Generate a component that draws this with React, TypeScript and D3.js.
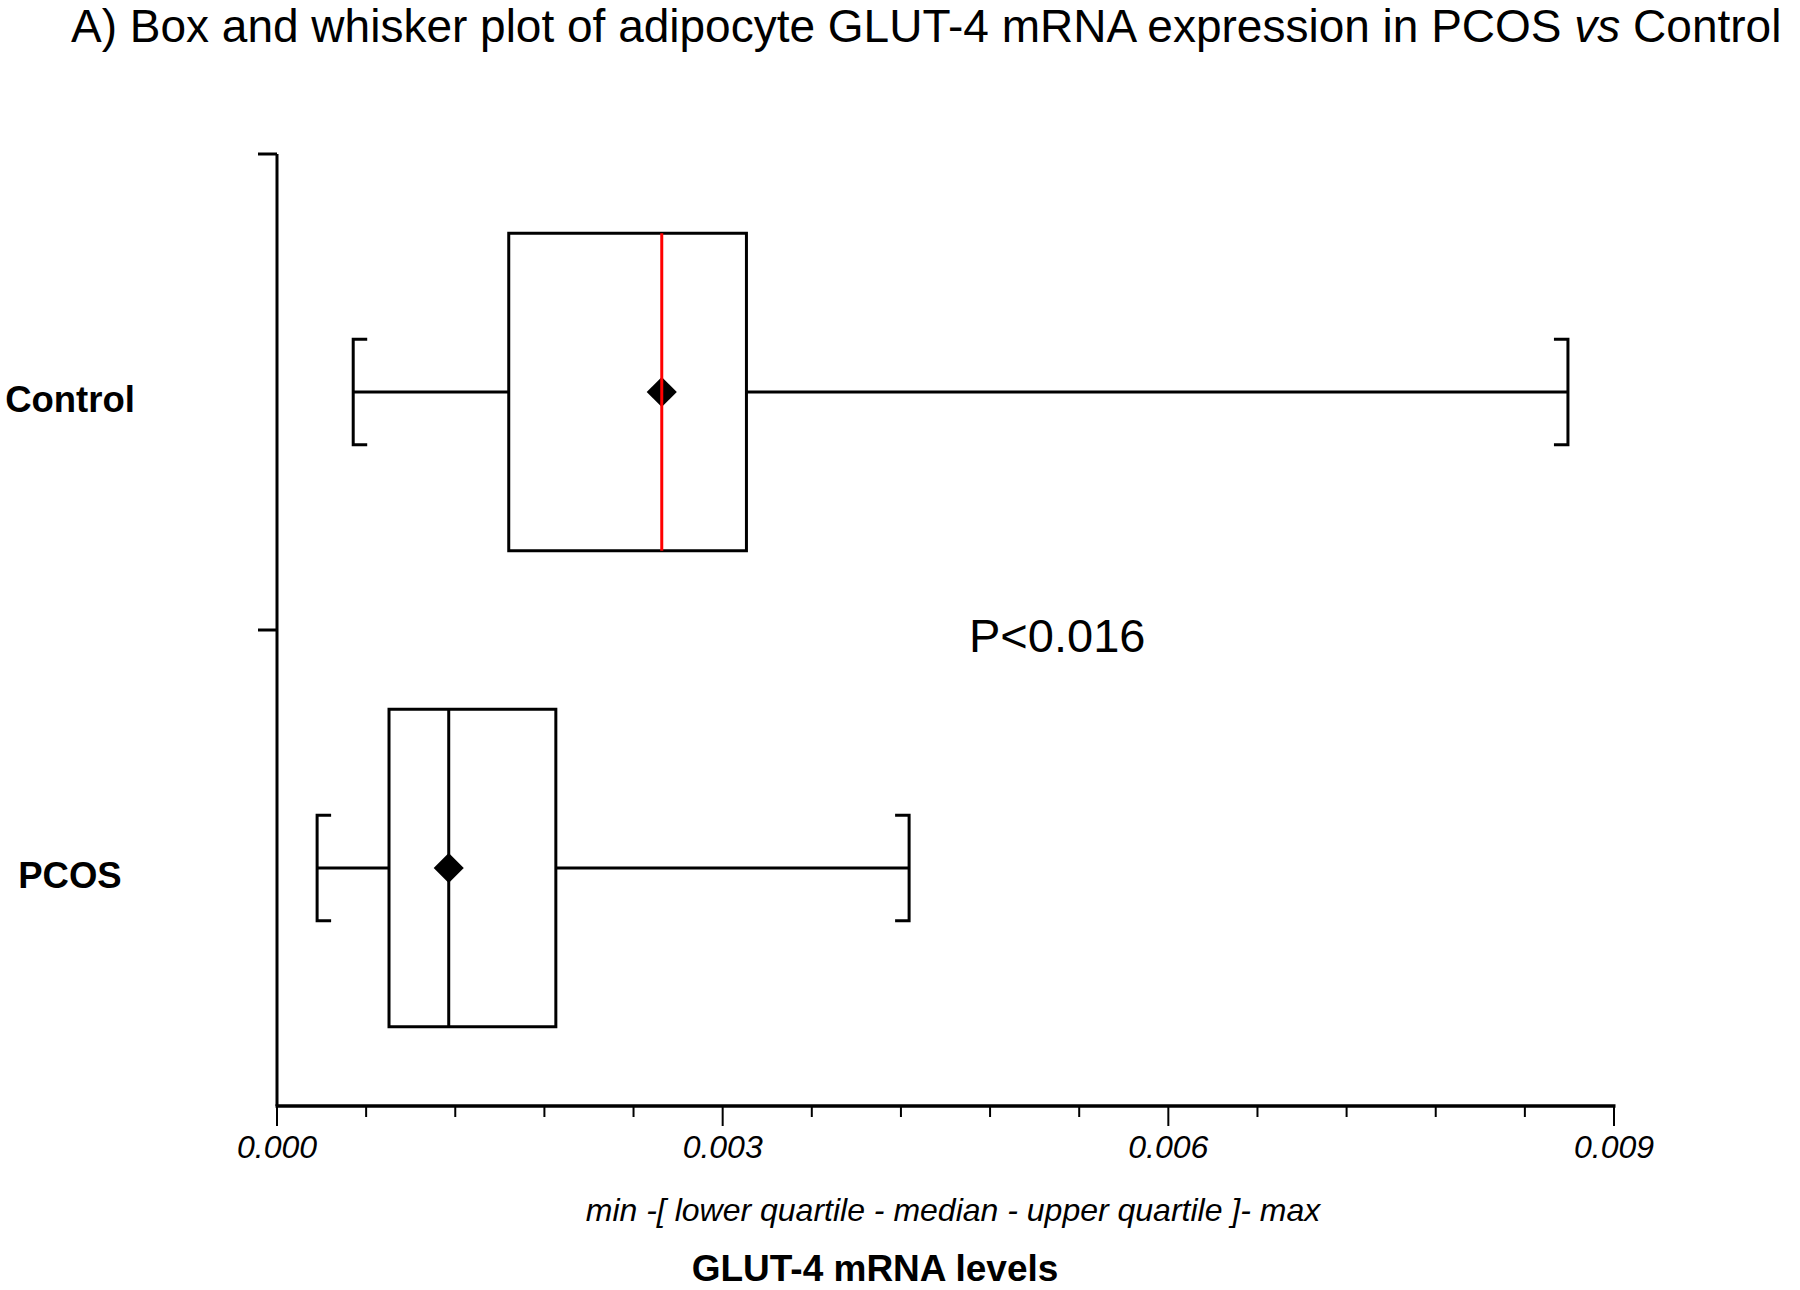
import React, { useEffect, useRef } from "react";
import * as d3 from "d3";

// values
const groups = ["Control", "PCOS"];
const mins = [0.000513, 0.00027];
const lowerQuartiles = [0.00156, 0.000754];
const medians = [0.00259, 0.001156];
const upperQuartiles = [0.00316, 0.001877];
const maxs = [0.00869, 0.004255];
const means = [0.00259, 0.001156];
const medianColors = ["#ff0000", "#000000"];
const xTicks = [0, 0.003, 0.006, 0.009];
const minorTicks = d3.range(0, 16).map((i) => i * 0.0006);

const FONT = "'Liberation Sans', Arial, sans-serif";

const App = () => {
  const chartEl = useRef<SVGSVGElement>(null);

  useEffect(() => {
    const width = 1800,
      height = 1290;
    const left = 277,
      right = 1614,
      top = 154,
      bottom = 1106;

    const svg = d3.select(chartEl.current);
    svg.selectAll("*").remove();
    svg.attr("width", width).attr("height", height);

    const x = d3.scaleLinear().domain([0, 0.009]).range([left, right]);
    const y = d3.scaleBand().domain(groups).range([top, bottom]).padding(0);

    // title
    const title = svg
      .append("text")
      .attr("x", 71)
      .attr("y", 42)
      .attr("font-family", FONT)
      .attr("font-size", 46)
      .attr("fill", "#000");
    title.append("tspan").text("A) Box and whisker plot of adipocyte GLUT-4 mRNA expression in PCOS ");
    title.append("tspan").attr("font-style", "italic").text("vs");
    title.append("tspan").text(" Control");

    // y axis with ticks on band edges
    svg
      .append("line")
      .attr("x1", left)
      .attr("x2", left)
      .attr("y1", top)
      .attr("y2", bottom)
      .attr("stroke", "#000")
      .attr("stroke-width", 3);
    groups.forEach((g) => {
      svg
        .append("line")
        .attr("x1", left - 19)
        .attr("x2", left)
        .attr("y1", y(g)!)
        .attr("y2", y(g)!)
        .attr("stroke", "#000")
        .attr("stroke-width", 3);
    });

    // x axis
    const xAxis = svg.append("g");
    xAxis
      .append("line")
      .attr("x1", left - 1.5)
      .attr("x2", right + 1.5)
      .attr("y1", bottom)
      .attr("y2", bottom)
      .attr("stroke", "#000")
      .attr("stroke-width", 3.5);
    xAxis
      .selectAll(".minor")
      .data(minorTicks)
      .enter()
      .append("line")
      .attr("x1", (d) => x(d))
      .attr("x2", (d) => x(d))
      .attr("y1", bottom)
      .attr("y2", (d, i) => (i % 5 === 0 ? bottom + 20 : bottom + 11))
      .attr("stroke", "#000")
      .attr("stroke-width", 2);
    xAxis
      .selectAll(".lbl")
      .data(xTicks)
      .enter()
      .append("text")
      .attr("x", (d) => x(d))
      .attr("y", 1158)
      .attr("text-anchor", "middle")
      .attr("font-family", FONT)
      .attr("font-style", "italic")
      .attr("font-size", 32)
      .text((d) => d3.format(".3f")(d));

    svg
      .append("text")
      .attr("x", 953)
      .attr("y", 1221)
      .attr("text-anchor", "middle")
      .attr("font-family", FONT)
      .attr("font-style", "italic")
      .attr("font-size", 32)
      .text("min -[ lower quartile - median - upper quartile ]- max");

    svg
      .append("text")
      .attr("x", 875)
      .attr("y", 1281)
      .attr("text-anchor", "middle")
      .attr("font-family", FONT)
      .attr("font-weight", "bold")
      .attr("font-size", 37)
      .text("GLUT-4 mRNA levels");

    // category labels
    svg
      .selectAll(".cat")
      .data(groups)
      .enter()
      .append("text")
      .attr("x", 70)
      .attr("y", (d) => y(d)! + y.bandwidth() / 2 + 20)
      .attr("text-anchor", "middle")
      .attr("font-family", FONT)
      .attr("font-weight", "bold")
      .attr("font-size", 36.5)
      .text((d) => d);

    // boxes
    const bw = y.bandwidth();
    const boxH = bw * 0.667;
    const capH = bw * 0.222;
    const diamond = d3.symbol().type(d3.symbolDiamond2).size(34 * 34 / 2);

    groups.forEach((g, i) => {
      const cy = y(g)! + bw / 2;
      const grp = svg.append("g");
      // whiskers
      grp
        .append("line")
        .attr("x1", x(mins[i]))
        .attr("x2", x(lowerQuartiles[i]))
        .attr("y1", cy)
        .attr("y2", cy)
        .attr("stroke", "#000")
        .attr("stroke-width", 3);
      grp
        .append("line")
        .attr("x1", x(upperQuartiles[i]))
        .attr("x2", x(maxs[i]))
        .attr("y1", cy)
        .attr("y2", cy)
        .attr("stroke", "#000")
        .attr("stroke-width", 3);
      // bracket caps
      const cap = 14;
      grp
        .append("path")
        .attr(
          "d",
          `M${x(mins[i]) + cap},${cy - capH / 2}H${x(mins[i])}V${cy + capH / 2}H${x(mins[i]) + cap}`
        )
        .attr("fill", "none")
        .attr("stroke", "#000")
        .attr("stroke-width", 3);
      grp
        .append("path")
        .attr(
          "d",
          `M${x(maxs[i]) - cap},${cy - capH / 2}H${x(maxs[i])}V${cy + capH / 2}H${x(maxs[i]) - cap}`
        )
        .attr("fill", "none")
        .attr("stroke", "#000")
        .attr("stroke-width", 3);
      // box
      grp
        .append("rect")
        .attr("x", x(lowerQuartiles[i]))
        .attr("y", cy - boxH / 2)
        .attr("width", x(upperQuartiles[i]) - x(lowerQuartiles[i]))
        .attr("height", boxH)
        .attr("fill", "none")
        .attr("stroke", "#000")
        .attr("stroke-width", 3);
      // mean marker
      grp
        .append("path")
        .attr("d", diamond()!)
        .attr("transform", `translate(${x(means[i])},${cy})`)
        .attr("fill", "#000");
      // median
      grp
        .append("line")
        .attr("x1", x(medians[i]))
        .attr("x2", x(medians[i]))
        .attr("y1", cy - boxH / 2)
        .attr("y2", cy + boxH / 2)
        .attr("stroke", medianColors[i])
        .attr("stroke-width", 3);
    });

    svg
      .append("text")
      .attr("x", 969)
      .attr("y", 652)
      .attr("font-family", FONT)
      .attr("font-size", 47)
      .text("P<0.016");
  }, [chartEl]);

  return (
    <svg
      ref={chartEl}
      style={{ position: "absolute", left: 0, top: 0, background: "#fff" }}
    ></svg>
  );
};

export default App;
